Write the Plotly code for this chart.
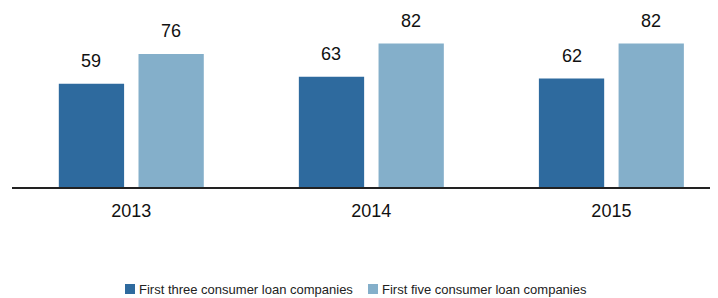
import plotly.graph_objects as go

years = ["2013", "2014", "2015"]
series_names = ["First three consumer loan companies", "First five consumer loan companies"]
first_three = [59, 63, 62]
first_five = [76, 82, 82]
colors = ["#2E6A9E", "#84AFCA"]

FONT = "Liberation Sans, Arial, sans-serif"

fig = go.Figure()
values = [first_three, first_five]
offsets = [-0.302, 0.030]
for name, vals, col, off in zip(series_names, values, colors, offsets):
    fig.add_trace(go.Bar(
        x=list(range(len(years))), y=vals, name=name,
        marker=dict(color=col, line=dict(width=0)),
        width=0.272, offset=off, showlegend=False,
    ))
    for i, v in enumerate(vals):
        fig.add_annotation(x=i + off + 0.136, y=v, text=str(v), showarrow=False,
                           yanchor="middle", yshift=23,
                           font=dict(family=FONT, size=18, color="#111111"))

# manual legend (page is offset by the 8px body margin)
leg_x = [(125 - 12) / 705, (368 - 12) / 705]
for name, col, lx in zip(series_names, colors, leg_x):
    fig.add_shape(type="rect", xref="paper", yref="paper",
                  x0=lx, x1=lx + 10 / 705, y0=(187 - 294) / 175, y1=(187 - 284) / 175,
                  fillcolor=col, line=dict(width=0))
    fig.add_annotation(xref="paper", yref="paper", x=lx + 12 / 705, y=(187 - 289) / 175,
                       text=name, showarrow=False, xanchor="left", yanchor="middle",
                       font=dict(family=FONT, size=13, color="#222222"))

fig.update_layout(
    width=710, height=290,
    margin=dict(l=4, r=1, t=4, b=111),
    plot_bgcolor="white", paper_bgcolor="white",
    font=dict(family=FONT, size=18, color="#111111"),
    xaxis=dict(range=[-0.497, 2.44], tickmode="array",
               tickvals=list(range(len(years))), ticktext=years,
               showgrid=False, zeroline=False,
               showline=True, linecolor="#222222", linewidth=1.5,
               ticks="outside", ticklen=7, tickcolor="rgba(0,0,0,0)",
               tickfont=dict(family=FONT, size=18, color="#111111")),
    yaxis=dict(range=[0, 100], visible=False, showgrid=False),
    showlegend=False,
)

fig.write_html("out.html")
